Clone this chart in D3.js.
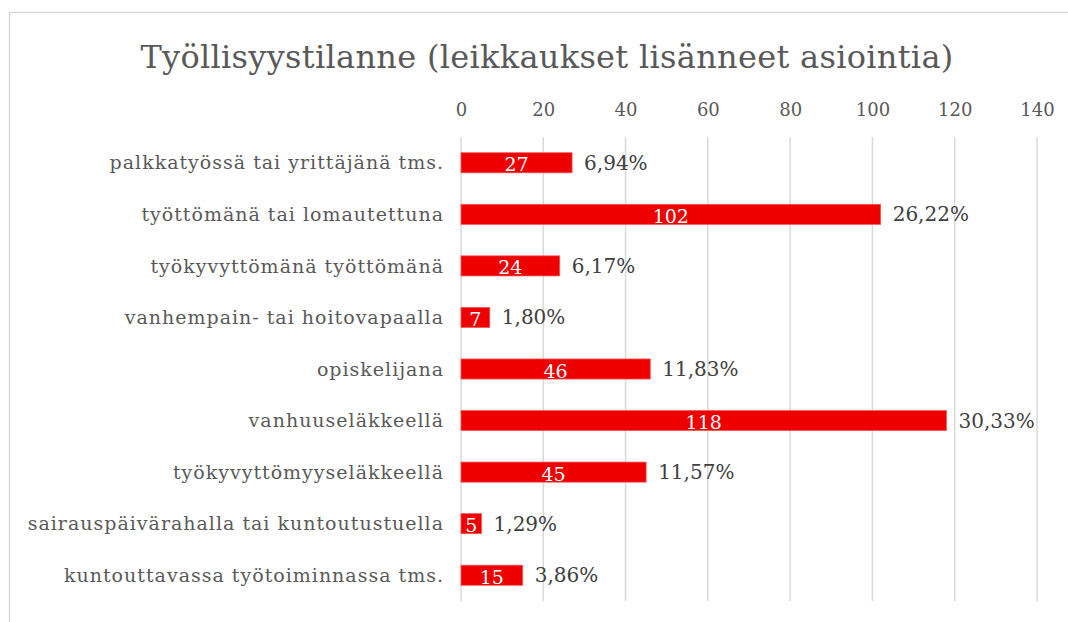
<!DOCTYPE html>
<html>
<head>
	<meta charset="UTF-8">
	<title>Työllisyystilanne</title>
	<script src="https://cdn.jsdelivr.net/npm/d3@7"></script>
	<style>
		body { margin: 0; background: #fff; }
		text { font-family: "DejaVu Serif", Georgia, serif; }
	</style>
</head>
<body>
	<script>
		// data
		var categories = [
			'palkkatyössä tai yrittäjänä tms.',
			'työttömänä tai lomautettuna',
			'työkyvyttömänä työttömänä',
			'vanhempain- tai hoitovapaalla',
			'opiskelijana',
			'vanhuuseläkkeellä',
			'työkyvyttömyyseläkkeellä',
			'sairauspäivärahalla tai kuntoutustuella',
			'kuntouttavassa työtoiminnassa tms.'
		];
		var counts = [27, 102, 24, 7, 46, 118, 45, 5, 15];
		var percents = ['6,94%', '26,22%', '6,17%', '1,80%', '11,83%', '30,33%', '11,57%', '1,29%', '3,86%'];
		var ticks = [0, 20, 40, 60, 80, 100, 120, 140];

		var W = 1068, H = 622;
		var margin = {top: 137, right: 31, bottom: 21, left: 461},
			width = W - margin.left - margin.right,
			height = H - margin.top - margin.bottom;

		var svg = d3.select('body')
			.append('svg')
			.attr('width', W)
			.attr('height', H);

		// chart border
		svg.append('rect')
			.attr('x', 9.5).attr('y', 12.5)
			.attr('width', W).attr('height', H)
			.attr('fill', 'none')
			.attr('stroke', '#d9d9d9')
			.attr('stroke-width', 1.5);

		svg.append('text')
			.attr('x', 547).attr('y', 68)
			.attr('text-anchor', 'middle')
			.attr('font-size', 32)
			.attr('letter-spacing', 0.3)
			.attr('fill', '#595959')
			.text('Työllisyystilanne (leikkaukset lisänneet asiointia)');

		var g = svg.append('g')
			.attr('transform', 'translate(' + margin.left + ',' + margin.top + ')');

		var x = d3.scaleLinear().domain([0, 140]).range([0, width]);
		var y = d3.scaleBand().domain(categories).range([0, height]).paddingInner(0.61).paddingOuter(0.305);

		// gridlines
		g.selectAll('.grid')
			.data(ticks)
			.enter().append('line')
			.attr('x1', function(d) { return x(d); })
			.attr('x2', function(d) { return x(d); })
			.attr('y1', 0).attr('y2', height)
			.attr('stroke', '#d9d9d9')
			.attr('stroke-width', 1.5);

		// top axis
		var ax = g.append('g')
			.attr('transform', 'translate(0,-21)')
			.call(d3.axisTop(x).tickValues(ticks).tickSize(0).tickPadding(0));
		ax.select('.domain').remove();
		ax.selectAll('text')
			.attr('font-size', 18)
			.attr('fill', '#595959')
			.style('font-family', '"DejaVu Serif", Georgia, serif');

		// category labels
		g.selectAll('.cat')
			.data(categories)
			.enter().append('text')
			.attr('x', -17)
			.attr('y', function(d) { return y(d) + y.bandwidth() / 2; })
			.attr('dy', '0.35em')
			.attr('text-anchor', 'end')
			.attr('font-size', 19)
			.attr('letter-spacing', 1)
			.attr('fill', '#595959')
			.text(function(d) { return d; });

		// bars
		g.selectAll('.bar')
			.data(counts)
			.enter().append('rect')
			.attr('x', x(0))
			.attr('y', function(d, i) { return y(categories[i]); })
			.attr('width', function(d) { return x(d) - x(0); })
			.attr('height', y.bandwidth())
			.attr('fill', '#ee0000')
			.attr('stroke', '#f35a5a')
			.attr('stroke-width', 0.75);

		// value labels inside bars
		g.selectAll('.val')
			.data(counts)
			.enter().append('text')
			.attr('x', function(d) { return x(d) / 2; })
			.attr('y', function(d, i) { return y(categories[i]) + y.bandwidth() / 2; })
			.attr('dy', '0.45em')
			.attr('text-anchor', 'middle')
			.attr('font-size', 19)
			.attr('fill', '#ffffff')
			.text(function(d) { return d; });

		// percentage labels
		g.selectAll('.pct')
			.data(percents)
			.enter().append('text')
			.attr('x', function(d, i) { return x(counts[i]) + 12; })
			.attr('y', function(d, i) { return y(categories[i]) + y.bandwidth() / 2; })
			.attr('dy', '0.35em')
			.attr('font-size', 20)
			.attr('fill', '#404040')
			.text(function(d) { return d; });
	</script>
</body>
</html>
